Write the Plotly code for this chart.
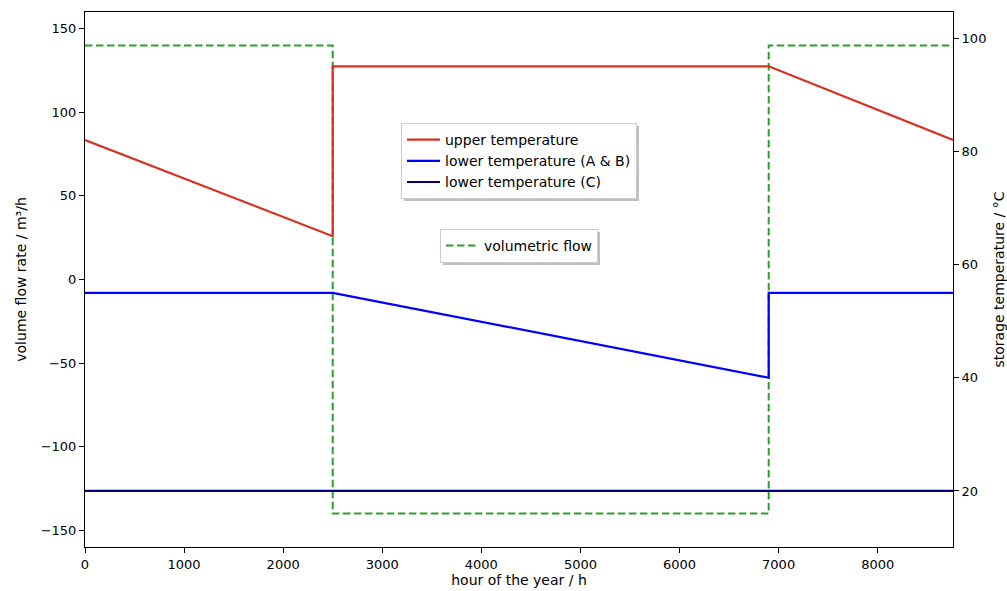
import plotly.graph_objects as go

# ---- data ----
hours_upper = [0, 2500, 2500, 6900, 8760]
upper_temp = [82, 65, 95, 95, 82]

hours_lower_ab = [0, 2500, 6900, 6900, 8760]
lower_temp_ab = [55, 55, 40, 55, 55]

hours_lower_c = [0, 8760]
lower_temp_c = [20, 20]

hours_flow = [0, 2500, 2500, 6900, 6900, 8760]
vol_flow = [140, 140, -140, -140, 140, 140]

x_ticks = [0, 1000, 2000, 3000, 4000, 5000, 6000, 7000, 8000]
y_ticks = [-150, -100, -50, 0, 50, 100, 150]
y2_ticks = [20, 40, 60, 80, 100]

FONT = "DejaVu Sans"
FS = 13
FS_T = 14

# plot area geometry (pixels) for legend shadows
L, R, T, B = 85, 54, 12, 44
PW, PH = 1007 - L - R, 591 - T - B


def px2paper(x, y):
    return (x - L) / PW, 1 - (y - T) / PH


fig = go.Figure()
fig.add_trace(go.Scatter(x=hours_flow, y=vol_flow, mode="lines", name="volumetric flow",
                         line=dict(color="#2ca02c", width=2, dash="7.5px,3.5px"),
                         yaxis="y", legend="legend2"))
fig.add_trace(go.Scatter(x=hours_upper, y=upper_temp, mode="lines", name="upper temperature",
                         line=dict(color="#d7301f", width=2.2), yaxis="y2", legend="legend"))
fig.add_trace(go.Scatter(x=hours_lower_ab, y=lower_temp_ab, mode="lines", name="lower temperature (A & B)",
                         line=dict(color="#0000ff", width=2.2), yaxis="y2", legend="legend"))
fig.add_trace(go.Scatter(x=hours_lower_c, y=lower_temp_c, mode="lines", name="lower temperature (C)",
                         line=dict(color="#000080", width=2.2), yaxis="y2", legend="legend"))

axis_common = dict(showline=True, linecolor="black", linewidth=1, ticks="outside", ticklen=5,
                   tickcolor="black", showgrid=False, zeroline=False, automargin=False,
                   tickfont=dict(family=FONT, size=FS, color="black"))

# legend boxes (pixel extents of the rendered legends)
LEG1 = (401, 123, 636, 198)
LEG2 = (440, 229, 597, 262)

shapes = []
for (x0, y0, x1, y1) in [LEG1, LEG2]:
    a0, b0 = px2paper(x0 + 3, y1 + 3)
    a1, b1 = px2paper(x1 + 3, y0 + 3)
    shapes.append(dict(type="rect", xref="paper", yref="paper", x0=a0, x1=a1, y0=b0, y1=b1,
                       fillcolor="rgba(128,128,128,0.5)", line=dict(width=0), layer="above"))

lx1, ly1 = px2paper(LEG1[0], LEG1[1])
lx2, ly2 = px2paper(LEG2[0], LEG2[1])

fig.update_layout(
    width=1007, height=591,
    margin=dict(l=L, r=R, t=T, b=B),
    paper_bgcolor="white", plot_bgcolor="white",
    font=dict(family=FONT, size=FS, color="black"),
    xaxis=dict(range=[0, 8760], tickvals=x_ticks, mirror=True,
               title=dict(text="hour of the year / h", standoff=4, font=dict(family=FONT, size=FS_T)),
               **axis_common),
    yaxis=dict(range=[-160, 160], tickvals=y_ticks, mirror=False,
               title=dict(text="volume flow rate / m³/h", standoff=10, font=dict(family=FONT, size=FS_T)),
               **axis_common),
    yaxis2=dict(range=[10.1, 104.6], tickvals=y2_ticks, overlaying="y", side="right",
                title=dict(text="storage temperature / °C", standoff=10, font=dict(family=FONT, size=FS_T)),
                **axis_common),
    legend=dict(x=lx1, y=ly1, xanchor="left", yanchor="top", bgcolor="white",
                bordercolor="#cccccc", borderwidth=1, itemwidth=33,
                font=dict(family=FONT, size=FS_T), tracegroupgap=0),
    legend2=dict(x=lx2, y=ly2, xanchor="left", yanchor="top", bgcolor="white",
                 bordercolor="#cccccc", borderwidth=1, itemwidth=33,
                 font=dict(family=FONT, size=FS_T)),
    shapes=shapes,
    showlegend=True,
)

fig.write_html("out.html")
